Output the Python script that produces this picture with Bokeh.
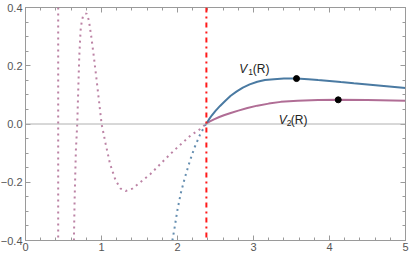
from bokeh.plotting import figure
from bokeh.models import (Range1d, LinearAxis, FixedTicker, Span, Label)
from bokeh.embed import file_html
from bokeh.resources import INLINE

# ---- data ----
# V1 solid branch
v1_x = [2.375, 2.41, 2.45, 2.50, 2.56, 2.63, 2.70, 2.78, 2.86, 2.95, 3.05, 3.15, 3.27, 3.40, 3.566, 3.72, 3.85, 4.00, 4.15, 4.32, 4.50, 4.75, 5.00]
v1_y = [0.000, 0.014, 0.029, 0.045, 0.062, 0.080, 0.097, 0.112, 0.125, 0.136, 0.145, 0.151, 0.154, 0.156, 0.156, 0.154, 0.151, 0.148, 0.144, 0.140, 0.136, 0.130, 0.124]
# V1 dotted branch
v1d_x = [1.933, 1.963, 1.998, 2.042, 2.099, 2.165, 2.227, 2.292, 2.335, 2.375]
v1d_y = [-0.400, -0.354, -0.297, -0.239, -0.182, -0.125, -0.079, -0.039, -0.018, 0.000]
# V2 solid branch
v2_x = [2.375, 2.42, 2.48, 2.55, 2.61, 2.70, 2.80, 2.92, 3.05, 3.20, 3.36, 3.58, 3.85, 4.115, 4.50, 5.00]
v2_y = [0.000, 0.008, 0.016, 0.024, 0.030, 0.038, 0.046, 0.055, 0.063, 0.070, 0.076, 0.080, 0.082, 0.083, 0.082, 0.080]
# V2 dotted branch
v2d_x = [0.637, 0.646, 0.663, 0.681, 0.694, 0.707, 0.725, 0.740, 0.755, 0.780, 0.804, 0.834, 0.866, 0.900, 0.936, 0.971, 1.001,
         1.054, 1.111, 1.186, 1.252, 1.318, 1.405, 1.515, 1.647, 1.779, 1.910, 2.042, 2.174, 2.306, 2.375]
v2d_y = [-0.400, -0.262, -0.090, 0.001, 0.116, 0.230, 0.322, 0.352, 0.368, 0.378, 0.379, 0.356, 0.299, 0.230, 0.150, 0.070, 0.000,
         -0.067, -0.136, -0.194, -0.222, -0.230, -0.222, -0.199, -0.171, -0.136, -0.102, -0.070, -0.039, -0.016, 0.000]
# pole of V2 and the crossing point
pole_x = 0.43
cross_x = 2.38
# maxima
max_x = [3.566, 4.115]
max_y = [0.156, 0.083]
# labels
label_pos = {"1": (2.813, 0.190), "2": (3.333, 0.015)}

x_ticks = [0, 1, 2, 3, 4, 5]
y_ticks = [-0.4, -0.2, 0.0, 0.2, 0.4]
y_tick_labels = {-0.4: "\u22120.4", -0.2: "\u22120.2", 0.0: "0.0", 0.2: "0.2", 0.4: "0.4"}

BLUE = "#4A7AA2"
PINK = "#B06D95"
FRAME = "#9a9a9a"
LABEL = "#555555"

p = figure(width=409, height=260, output_backend="svg", toolbar_location=None,
           x_range=Range1d(0, 5), y_range=Range1d(-0.4, 0.4),
           x_axis_location=None, y_axis_location=None,
           min_border_left=25, min_border_right=4, min_border_top=7, min_border_bottom=20)
p.frame_width = 380
p.frame_height = 233
p.styles = {"margin-left": "-3px", "margin-top": "0px"}
p.grid.visible = False
p.outline_line_color = FRAME
p.outline_line_width = 1
p.background_fill_color = "white"
p.border_fill_color = "white"

def style_axis(ax, major_in, minor_in):
    ax.axis_line_color = FRAME
    ax.major_tick_line_color = FRAME
    ax.minor_tick_line_color = FRAME
    ax.major_tick_in = major_in
    ax.major_tick_out = 0
    ax.minor_tick_in = minor_in
    ax.minor_tick_out = 0
    return ax

def label_axis(ticks, minor, overrides=None):
    ax = style_axis(LinearAxis(ticker=FixedTicker(ticks=ticks, minor_ticks=minor)), 5, 3)
    ax.major_label_text_font = "Liberation Sans"
    ax.major_label_text_font_size = "11px"
    ax.major_label_text_color = LABEL
    ax.major_label_standoff = 3
    if overrides:
        ax.major_label_overrides = overrides
    return ax

def tick_only_axis(ticks, length):
    # an axis with no major ticks draws no labels; its ticks are drawn as minor ticks
    return style_axis(LinearAxis(ticker=FixedTicker(ticks=[], minor_ticks=ticks)), 0, length)

x_minor = [round(i * 0.2, 2) for i in range(0, 26)]
y_minor = [round(-0.4 + i * 0.05, 3) for i in range(0, 17)]

p.add_layout(label_axis(x_ticks, x_minor), "below")
p.add_layout(label_axis(y_ticks, y_minor, y_tick_labels), "left")
p.below[0].major_label_standoff = 2
p.add_layout(tick_only_axis(x_minor, 3), "above")
p.add_layout(tick_only_axis(x_ticks, 5), "above")
p.add_layout(tick_only_axis(y_minor, 3), "right")
p.add_layout(tick_only_axis(y_ticks, 5), "right")

# zero line
p.add_layout(Span(location=0, dimension="width", line_color="#b0b0b0", line_width=1))

# pole (dotted)
p.add_layout(Span(location=pole_x, dimension="height", line_color=PINK, line_width=2,
                  line_dash="2 4", line_alpha=0.85))

# dotted branches
p.line(v2d_x, v2d_y, line_color=PINK, line_width=2, line_dash="2 4", line_alpha=0.85)
p.line(v1d_x, v1d_y, line_color=BLUE, line_width=2, line_dash="2 4", line_alpha=0.85)

# solid branches
p.line(v2_x, v2_y, line_color=PINK, line_width=2)
p.line(v1_x, v1_y, line_color=BLUE, line_width=2)

# crossing line (dash-dot)
p.add_layout(Span(location=cross_x, dimension="height", line_color="#FF1a1a", line_width=2,
                  line_dash="5 4 2 4"))

# maxima
p.scatter(max_x, max_y, size=6, color="black")

# labels V1(R), V2(R)
for sub, (lx, ly) in label_pos.items():
    vx_off_sub = 9 if sub == "1" else 8
    vx_off_r = 13.5 if sub == "1" else 12
    p.add_layout(Label(x=lx, y=ly, text="V", text_font="Liberation Sans", text_font_style="italic",
                       text_font_size="12px", text_color="#222222", text_baseline="alphabetic"))
    p.add_layout(Label(x=lx, y=ly, x_offset=vx_off_sub, y_offset=-3, text=sub, text_font="Liberation Sans",
                       text_font_size="8.5px", text_color="#222222", text_baseline="alphabetic"))
    p.add_layout(Label(x=lx, y=ly, x_offset=vx_off_r, text="(R)", text_font="Liberation Sans",
                       text_font_size="12px", text_color="#222222", text_baseline="alphabetic"))

open("out.html", "w").write(file_html(p, INLINE))
